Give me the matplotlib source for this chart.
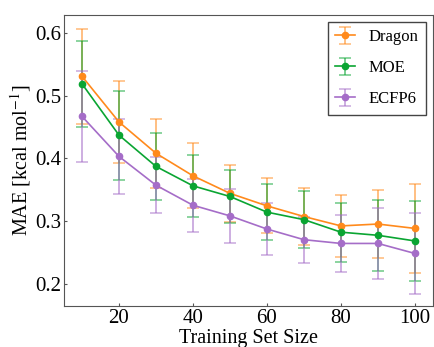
import matplotlib
matplotlib.use("Agg")
import matplotlib.pyplot as plt
import numpy as np

plt.rcParams['font.family'] = ['Liberation Serif', 'DejaVu Serif']
plt.rcParams['mathtext.fontset'] = 'stix'

sizes = [10, 20, 30, 40, 50, 60, 70, 80, 90, 100]

dragon_mae = [0.531, 0.458, 0.408, 0.372, 0.344, 0.324, 0.307, 0.292, 0.295, 0.288]
dragon_err = [0.076, 0.065, 0.055, 0.052, 0.045, 0.044, 0.045, 0.050, 0.054, 0.071]

moe_mae = [0.519, 0.437, 0.387, 0.356, 0.339, 0.314, 0.302, 0.282, 0.277, 0.268]
moe_err = [0.069, 0.071, 0.053, 0.049, 0.043, 0.045, 0.045, 0.047, 0.057, 0.064]

ecfp_mae = [0.467, 0.403, 0.357, 0.325, 0.308, 0.287, 0.270, 0.264, 0.264, 0.248]
ecfp_err = [0.073, 0.060, 0.045, 0.042, 0.043, 0.041, 0.037, 0.046, 0.056, 0.064]

series = [
    ('Dragon', dragon_mae, dragon_err, '#ff8a1c'),
    ('MOE', moe_mae, moe_err, '#0aa532'),
    ('ECFP6', ecfp_mae, ecfp_err, '#a56dc8'),
]

fig = plt.figure(figsize=(4.34, 3.47), dpi=100)
ax = fig.add_axes([0.148, 0.118, 0.849, 0.839])

for name, mae, err, col in series:
    ax.errorbar(sizes, mae, yerr=err, color=col, marker='o', markersize=4.5,
                linewidth=1.2, elinewidth=1.4, capsize=4, capthick=1.2,
                ecolor=matplotlib.colors.to_rgba(col, 0.55), label=name)

ax.set_xlim(5.2, 104.8)
ax.set_ylim(0.164, 0.629)
ax.set_xticks([20, 40, 60, 80, 100])
ax.set_yticks([0.2, 0.3, 0.4, 0.5, 0.6])
ax.tick_params(labelsize=15, length=2, direction='in', pad=2, color='#555555')
for s in ax.spines.values():
    s.set_color('#555555')
ax.set_xlabel('Training Set Size', fontsize=14.5, labelpad=0.5)
ax.set_ylabel('MAE [kcal mol$^{-1}$]', fontsize=14.5, labelpad=2)

leg = ax.legend(loc='upper right', fontsize=12, fancybox=False, edgecolor='#444444',
                framealpha=1, handlelength=1.2, handletextpad=0.8, borderpad=0.45,
                labelspacing=0.9, borderaxespad=0.4)
leg.get_frame().set_linewidth(1.0)

plt.savefig('out.png', dpi=100)
plt.close()
